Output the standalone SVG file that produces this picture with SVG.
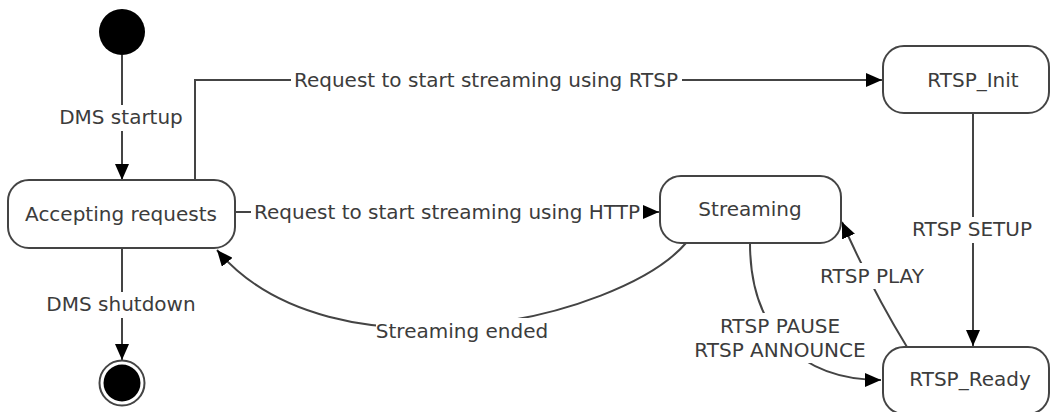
<svg xmlns="http://www.w3.org/2000/svg" width="1052" height="412" viewBox="0 0 1052 412">
<style>
.box{fill:#fff;stroke:#444;stroke-width:2}
.t{font-family:"DejaVu Sans",Verdana,sans-serif;font-size:20px;fill:#3c3c3c;text-anchor:middle}
.bg{fill:#fff}
.c{fill:none;stroke:#444;stroke-width:2}
</style>
<defs>
<marker id="ah" markerUnits="userSpaceOnUse" markerWidth="16" markerHeight="14" refX="16" refY="7" orient="auto">
<path d="M0,0 L16,7 L0,14 Z" fill="#000"/>
</marker>
</defs>
<g id="connectors">
<path class="c" d="M122,55 L122,180" marker-end="url(#ah)"/>
<path class="c" d="M195,180 L195,80 L882,80" marker-end="url(#ah)"/>
<path class="c" d="M235,212 L659,212" marker-end="url(#ah)"/>
<path class="c" d="M122,248 L122,360" marker-end="url(#ah)"/>
<path class="c" d="M973,113 L973,346" marker-end="url(#ah)"/>
<path class="c" d="M686,243 C620,320 330,385 217,250" marker-end="url(#ah)"/>
<path class="c" d="M750,243 C750,330 800,380 881,380" marker-end="url(#ah)"/>
<path class="c" d="M907,347 Q872,290 842,222" marker-end="url(#ah)"/>
<rect class="bg" x="58" y="105" width="127" height="26"/>
<rect class="bg" x="48" y="292" width="147" height="26"/>
<rect class="bg" x="291" y="68" width="391" height="24"/>
<rect class="bg" x="251" y="200" width="392" height="24"/>
<rect class="bg" x="376" y="318" width="172" height="26"/>
<rect class="bg" x="910" y="217" width="124" height="26"/>
<rect class="bg" x="818" y="263" width="108" height="26"/>
<rect class="bg" x="694" y="313" width="172" height="50"/>
<text class="t" x="121" y="124">DMS startup</text>
<text class="t" x="121" y="311">DMS shutdown</text>
<text class="t" x="486" y="87">Request to start streaming using RTSP</text>
<text class="t" x="447" y="219">Request to start streaming using HTTP</text>
<text class="t" x="462" y="338">Streaming ended</text>
<text class="t" x="972" y="236">RTSP SETUP</text>
<text class="t" x="872" y="283">RTSP PLAY</text>
<text class="t" x="780" y="333">RTSP PAUSE</text>
<text class="t" x="780" y="357">RTSP ANNOUNCE</text>
</g>
<g id="start"><circle cx="122" cy="32" r="23" fill="#000"/></g>
<g id="end"><circle cx="122" cy="383" r="22.5" fill="#fff" stroke="#444" stroke-width="2"/><circle cx="122" cy="383" r="18.5" fill="#000"/></g>
<g id="accepting"><rect class="box" x="8" y="180" width="227" height="68" rx="21"/><text class="t" x="121" y="221">Accepting requests</text></g>
<g id="rtsp_init"><rect class="box" x="883" y="46" width="166" height="67" rx="21"/><text class="t" x="973" y="87">RTSP_Init</text></g>
<g id="streaming"><rect class="box" x="660" y="176" width="181" height="67" rx="21"/><text class="t" x="750" y="216">Streaming</text></g>
<g id="rtsp_ready"><rect class="box" x="883" y="347" width="166" height="67" rx="21"/><text class="t" x="970" y="386">RTSP_Ready</text></g>
</svg>
